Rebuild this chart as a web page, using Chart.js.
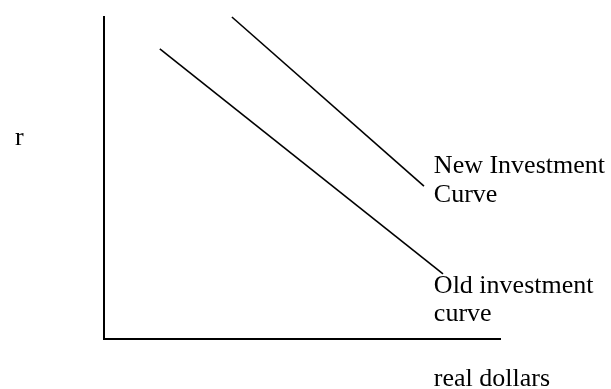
<!DOCTYPE html>
<html>
<head>
<meta charset="utf-8">
<script src="https://cdn.jsdelivr.net/npm/chart.js@4.4.0/dist/chart.umd.min.js"></script>
<style>
html,body{margin:0;padding:0;background:#fff;}
#wrap{position:relative;width:611px;height:389px;}
</style>
</head>
<body>
<div id="wrap"><canvas id="c" width="611" height="389"></canvas></div>
<script>
// ---- data (arbitrary units, no ticks on the original) ----
const seriesNames = ["New Investment Curve", "Old investment curve"];
const newCurveX = [32.3, 80.8];
const newCurveY = [100, 47.5];
const oldCurveX = [14.1, 85.6];
const oldCurveY = [90.1, 20.2];
const yAxisLabel = "r";
const xAxisLabel = "real dollars";
const newLabelLines = ["New Investment", "Curve"];
const oldLabelLines = ["Old investment", "curve"];

const toPts = (xs, ys) => xs.map((x, i) => ({x: x, y: ys[i]}));

const FONT = '26px "Liberation Serif", "Times New Roman", serif';

const textPlugin = {
  id: 'texts',
  afterDraw(chart) {
    const ctx = chart.ctx;
    const xs = chart.scales.x, ys = chart.scales.y;
    ctx.save();
    ctx.fillStyle = '#000';
    ctx.font = FONT;
    ctx.textAlign = 'left';
    ctx.textBaseline = 'alphabetic';
    const lineH = 28.5;
    const put = (lines, px, py) => lines.forEach((t, i) => ctx.fillText(t, px, py + i * lineH));
    // label anchors in data units
    put(newLabelLines, xs.getPixelForValue(83.3), ys.getPixelForValue(51.5));
    put(oldLabelLines, xs.getPixelForValue(83.3), ys.getPixelForValue(14.3));
    put([xAxisLabel], xs.getPixelForValue(83.3), ys.getPixelForValue(-14.6));
    put([yAxisLabel], xs.getPixelForValue(-22.5), ys.getPixelForValue(60.2));
    ctx.restore();
  }
};

new Chart(document.getElementById('c'), {
  type: 'scatter',
  data: {
    datasets: [
      {label: seriesNames[0], data: toPts(newCurveX, newCurveY), showLine: true,
       borderColor: '#000', borderWidth: 1.6, pointRadius: 0, fill: false, clip: false},
      {label: seriesNames[1], data: toPts(oldCurveX, oldCurveY), showLine: true,
       borderColor: '#000', borderWidth: 1.6, pointRadius: 0, fill: false, clip: false}
    ]
  },
  options: {
    responsive: false,
    animation: false,
    devicePixelRatio: 1,
    layout: {padding: {left: 104, top: 17, right: 111, bottom: 50}},
    plugins: {legend: {display: false}, tooltip: {enabled: false}},
    scales: {
      x: {type: 'linear', min: 0, max: 100,
          ticks: {display: false}, grid: {display: false, drawTicks: false},
          border: {display: true, color: '#000', width: 2},
          afterFit: s => { s.height = 0; }},
      y: {type: 'linear', min: 0, max: 100,
          ticks: {display: false}, grid: {display: false, drawTicks: false},
          border: {display: true, color: '#000', width: 2},
          afterFit: s => { s.width = 0; }}
    }
  },
  plugins: [textPlugin]
});
</script>
</body>
</html>
